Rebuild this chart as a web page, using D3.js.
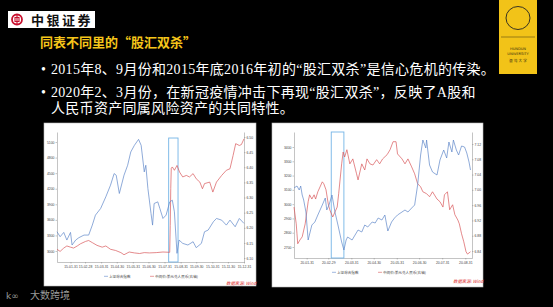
<!DOCTYPE html>
<html>
<head>
<meta charset="utf-8">
<script src="https://cdn.jsdelivr.net/npm/d3@7"></script>
<style>
html, body { margin: 0; padding: 0; background: #000; }
svg { display: block; }
</style>
</head>
<body>
<svg id="slide"></svg>
<script>
// 2015 上证综指 / 中间价
const idx15Dates = ["2015-01-05","2015-01-11","2015-01-18","2015-01-24","2015-01-31","2015-02-03","2015-02-10","2015-02-16","2015-02-26","2015-03-07","2015-03-14","2015-03-20","2015-03-30","2015-04-09","2015-04-18","2015-04-25","2015-04-29","2015-05-05","2015-05-14","2015-05-21","2015-05-27","2015-06-03","2015-06-11","2015-06-16","2015-06-22","2015-06-25","2015-06-29","2015-07-05","2015-07-08","2015-07-11","2015-07-18","2015-07-22","2015-07-28","2015-08-03","2015-08-10","2015-08-15","2015-08-19","2015-08-24","2015-08-28","2015-09-04","2015-09-14","2015-09-24","2015-09-30","2015-10-10","2015-10-16","2015-10-23","2015-11-02","2015-11-08","2015-11-18","2015-11-27","2015-12-04","2015-12-14","2015-12-22","2015-12-31"];
const idx15Values = [3371,3275,3358,3211,3358,3115,3211,3256,3307,3307,3499,3691,3819,4044,4268,4492,4460,4108,4460,4652,4908,5036,5151,5036,4524,4652,4204,3723,3499,3915,3947,3819,3627,3691,3947,3979,3755,2955,3211,3147,3115,3179,3064,3147,3371,3403,3563,3627,3595,3499,3595,3467,3627,3531];

const fx15Dates = ["2015-01-05","2015-01-11","2015-01-18","2015-01-24","2015-01-31","2015-02-06","2015-02-13","2015-02-19","2015-03-01","2015-03-07","2015-03-14","2015-03-23","2015-04-02","2015-04-09","2015-04-18","2015-04-28","2015-05-08","2015-05-14","2015-05-24","2015-06-03","2015-06-13","2015-06-22","2015-07-02","2015-07-15","2015-07-28","2015-08-10","2015-08-11","2015-08-12","2015-08-13","2015-08-15","2015-08-19","2015-08-24","2015-08-29","2015-09-04","2015-09-11","2015-09-17","2015-09-24","2015-09-30","2015-10-07","2015-10-12","2015-10-16","2015-10-26","2015-11-01","2015-11-08","2015-11-18","2015-11-27","2015-12-04","2015-12-10","2015-12-15","2015-12-22","2015-12-26","2015-12-31"];
const fx15Values = [6.129,6.122,6.133,6.140,6.136,6.133,6.140,6.147,6.155,6.158,6.151,6.142,6.136,6.140,6.129,6.125,6.118,6.111,6.120,6.117,6.115,6.118,6.117,6.118,6.120,6.119,6.208,6.330,6.397,6.401,6.390,6.406,6.384,6.368,6.373,6.368,6.379,6.362,6.351,6.329,6.346,6.351,6.318,6.351,6.373,6.390,6.395,6.439,6.478,6.472,6.475,6.494];

// 2020 上证综指 / 中间价
const idx20Dates = ["2020-01-14","2020-01-18","2020-01-21","2020-01-23","2020-01-25","2020-01-27","2020-01-30","2020-02-02","2020-02-07","2020-02-11","2020-02-15","2020-02-21","2020-02-25","2020-02-27","2020-03-01","2020-03-05","2020-03-09","2020-03-13","2020-03-18","2020-03-21","2020-03-24","2020-03-26","2020-04-01","2020-04-05","2020-04-09","2020-04-14","2020-04-18","2020-04-22","2020-04-28","2020-05-02","2020-05-06","2020-05-11","2020-05-15","2020-05-19","2020-05-24","2020-05-28","2020-06-01","2020-06-07","2020-06-11","2020-06-15","2020-06-20","2020-06-24","2020-06-28","2020-07-02","2020-07-05","2020-07-09","2020-07-10","2020-07-14","2020-07-18","2020-07-24","2020-07-28","2020-08-02","2020-08-06","2020-08-09","2020-08-13","2020-08-15","2020-08-19","2020-08-22","2020-08-26","2020-08-30","2020-09-02","2020-09-05","2020-09-07"];
const idx20Values = [3113,3127,3099,3127,3064,3029,2945,2749,2854,2875,2924,2994,3043,2959,2994,3064,2945,2854,2735,2679,2749,2770,2749,2784,2819,2805,2854,2840,2875,2868,2903,2889,2924,2812,2875,2903,2924,2945,2959,2945,2973,2994,3134,3344,3449,3393,3449,3274,3225,3204,3309,3379,3323,3435,3365,3449,3379,3344,3407,3400,3358,3295,3239];

const fx20Dates = ["2020-01-14","2020-01-17","2020-01-18","2020-01-19","2020-01-22","2020-01-25","2020-01-29","2020-02-02","2020-02-04","2020-02-07","2020-02-10","2020-02-12","2020-02-15","2020-02-21","2020-02-23","2020-02-26","2020-02-29","2020-03-02","2020-03-06","2020-03-12","2020-03-14","2020-03-18","2020-03-20","2020-03-22","2020-03-25","2020-03-29","2020-04-02","2020-04-07","2020-04-09","2020-04-14","2020-04-18","2020-04-21","2020-04-25","2020-04-29","2020-05-04","2020-05-08","2020-05-12","2020-05-18","2020-05-22","2020-05-26","2020-05-30","2020-06-01","2020-06-07","2020-06-11","2020-06-15","2020-06-20","2020-06-24","2020-06-28","2020-07-02","2020-07-05","2020-07-10","2020-07-14","2020-07-18","2020-07-24","2020-07-28","2020-08-01","2020-08-03","2020-08-07","2020-08-10","2020-08-14","2020-08-17","2020-08-21","2020-08-23","2020-08-26","2020-08-29","2020-09-01","2020-09-03","2020-09-07"];
const fx20Values = [6.955,6.911,6.885,6.859,6.869,6.877,6.911,6.969,6.987,6.976,6.987,6.976,6.995,7.021,7.016,7.000,6.963,6.948,6.929,6.955,6.990,7.068,7.099,7.086,7.105,7.068,7.081,7.042,7.026,7.068,7.052,7.081,7.068,7.065,7.079,7.068,7.081,7.092,7.105,7.126,7.126,7.094,7.081,7.068,7.081,7.060,7.042,7.016,7.008,6.995,6.990,6.982,6.995,6.976,6.969,6.955,6.987,6.995,6.948,6.961,6.935,6.921,6.911,6.885,6.864,6.838,6.832,6.838];

// 刻度
const yTicks15 = [3000,3300,3600,3900,4200,4500,4800,5100];
const y2Ticks15 = [6.10,6.15,6.20,6.25,6.30,6.35,6.40,6.45,6.50];
const xTicks15 = ["2015-01-31","2015-02-28","2015-03-31","2015-04-30","2015-05-31","2015-06-30","2015-07-31","2015-08-31","2015-09-30","2015-10-31","2015-11-30","2015-12-31"];
const yTicks20 = [2700,2800,2900,3000,3100,3200,3300,3400];
const y2Ticks20 = [6.84,6.88,6.92,6.96,7.00,7.04,7.08,7.12];
const xTicks20 = ["2020-01-31","2020-02-29","2020-03-31","2020-04-30","2020-05-31","2020-06-30","2020-07-31","2020-08-31"];

// 高亮区间（股汇双杀）
const shade15 = ["2015-08-08","2015-08-26"];
const shade20 = ["2020-03-04","2020-03-21"];

const legendNames = ["上证综合指数","中间价:美元兑人民币(右轴)"];
const bullets = [
  ["2015年8、9月份和2015年底2016年初的“股汇双杀”是信心危机的传染。"],
  ["2020年2、3月份，在新冠疫情冲击下再现“股汇双杀”，反映了A股和", "人民币资产同属风险资产的共同特性。"]
];

const W = 553, H = 307;
const BLUE = "#5f86c9", RED = "#d9585a";
const parse = d3.timeParse("%Y-%m-%d");

const svg = d3.select("#slide").attr("width", W).attr("height", H);
svg.append("rect").attr("width", W).attr("height", H).attr("fill", "#000");

// 中银证券 logo
const logo = svg.append("g");
logo.append("rect").attr("x", 8).attr("y", 11).attr("width", 87).attr("height", 17).attr("fill", "#fff");
logo.append("circle").attr("cx", 17).attr("cy", 19.5).attr("r", 5).attr("fill", "none").attr("stroke", "#c8102e").attr("stroke-width", 1.8);
logo.append("rect").attr("x", 15).attr("y", 17.5).attr("width", 4).attr("height", 4).attr("fill", "none").attr("stroke", "#c8102e").attr("stroke-width", 1.1);
logo.append("line").attr("x1", 17).attr("x2", 17).attr("y1", 14).attr("y2", 25).attr("stroke", "#c8102e").attr("stroke-width", 1.1);
logo.append("text").attr("x", 31).attr("y", 24.5).text("中银证券")
  .attr("font-family", "'Noto Sans CJK SC'").attr("font-weight", 700)
  .attr("font-size", 13).attr("letter-spacing", 2.5).attr("fill", "#111");

// 混沌大学 block
const hd = svg.append("g");
hd.append("rect").attr("x", 499).attr("y", 0).attr("width", 38).attr("height", 74).attr("fill", "#f2c318");
hd.append("ellipse").attr("cx", 518).attr("cy", 18).attr("rx", 12).attr("ry", 11.5)
  .attr("fill", "none").attr("stroke", "#222").attr("stroke-width", 0.9);
hd.append("line").attr("x1", 501).attr("x2", 535).attr("y1", 37).attr("y2", 37).attr("stroke", "#5a4a10").attr("stroke-width", 0.6);
[["HUNDUN", 50], ["UNIVERSITY", 55], ["混 沌 大 学", 62]].forEach(([t, y]) => {
  hd.append("text").attr("x", 518).attr("y", y).attr("text-anchor", "middle")
    .attr("font-family", "'DejaVu Sans','Noto Sans CJK SC'").attr("font-size", 3.6)
    .attr("fill", "#3a3010").text(t);
});

// 标题
svg.append("text").attr("x", 40).attr("y", 47).text("同表不同里的“股汇双杀”")
  .attr("font-family", "'Noto Sans CJK SC'").attr("font-weight", 700)
  .attr("font-size", 13).attr("fill", "#f5c51a");

// 要点
const bodyFont = "'Liberation Serif','Noto Sans CJK SC'";
let lineY = [74, 97, 113], k = 0;
bullets.forEach(lines => {
  svg.append("text").attr("x", 41).attr("y", lineY[k]).text("•")
    .attr("font-family", bodyFont).attr("font-size", 14).attr("fill", "#fff");
  lines.forEach(t => {
    svg.append("text").attr("x", 51).attr("y", lineY[k]).text(t)
      .attr("font-family", bodyFont).attr("font-size", 14).attr("letter-spacing", 0.3).attr("fill", "#fff");
    k++;
  });
});

// 水印
svg.append("text").attr("x", 6).attr("y", 299).text("k∞")
  .attr("font-family", "'DejaVu Sans'").attr("font-size", 9).attr("fill", "#9a9a9a");
svg.append("text").attr("x", 30).attr("y", 299).text("大数跨境")
  .attr("font-family", "'Noto Sans CJK SC'").attr("font-size", 10).attr("fill", "#9a9a9a");

function drawPanel(p) {
  const g = svg.append("g");
  g.append("rect").attr("x", p.box[0]).attr("y", p.box[1]).attr("width", p.box[2]).attr("height", p.box[3])
    .attr("fill", "#fff").attr("stroke", "#bbb").attr("stroke-width", 0.6);

  const x = d3.scaleTime().domain(p.xDomain.map(parse)).range([p.left, p.right]);
  const y = d3.scaleLinear().domain(p.yDomain).range([p.bottom, p.top]);
  const y2 = d3.scaleLinear().domain(p.y2Domain).range([p.bottom, p.top]);

  const styleAxis = a => {
    a.selectAll("path, line").attr("stroke", "#888").attr("stroke-width", 0.5);
    a.selectAll("text").attr("fill", "#444").attr("font-family", "'Liberation Sans'").attr("font-size", p.tickFont);
  };

  g.append("g").attr("transform", `translate(0,${p.bottom})`)
    .call(d3.axisBottom(x).tickValues(p.xTicks.map(parse)).tickFormat(d3.timeFormat("%y-%m-%d")).tickSize(1.5).tickSizeOuter(0).tickPadding(p.xPad))
    .call(styleAxis);
  g.append("g").attr("transform", `translate(${p.left},0)`)
    .call(d3.axisLeft(y).tickValues(p.yTicks).tickFormat(d3.format("d")).tickSize(1.5).tickSizeOuter(0).tickPadding(1))
    .call(styleAxis);
  g.append("g").attr("transform", `translate(${p.right},0)`)
    .call(d3.axisRight(y2).tickValues(p.y2Ticks).tickFormat(d3.format(".2f")).tickSize(1.5).tickSizeOuter(0).tickPadding(1))
    .call(styleAxis);

  // 高亮框
  const sx0 = x(parse(p.shade[0])), sx1 = x(parse(p.shade[1]));
  g.append("rect").attr("x", sx0).attr("y", y(p.shadeTop)).attr("width", sx1 - sx0).attr("height", p.bottom - y(p.shadeTop))
    .attr("fill", "none").attr("stroke", "#74b4e6").attr("stroke-width", 0.9);

  const line = (dates, vals, sc) => d3.line().x((d, i) => x(parse(dates[i]))).y(d => sc(d))(vals);
  g.append("path").attr("d", line(p.fxDates, p.fxValues, y2)).attr("fill", "none").attr("stroke", RED).attr("stroke-width", 0.7);
  g.append("path").attr("d", line(p.idxDates, p.idxValues, y)).attr("fill", "none").attr("stroke", BLUE).attr("stroke-width", 0.7);

  // 图例
  [[BLUE, p.legend[0]], [RED, p.legend[1]]].forEach(([c, lx], i) => {
    g.append("line").attr("x1", lx).attr("x2", lx + 4).attr("y1", p.legendY - 1.2).attr("y2", p.legendY - 1.2)
      .attr("stroke", c).attr("stroke-width", 0.6);
    g.append("text").attr("x", lx + 5).attr("y", p.legendY).text(legendNames[i])
      .attr("font-family", "'Noto Sans CJK SC'").attr("font-size", 3.6).attr("fill", "#444");
  });
  g.append("text").attr("x", p.source[0]).attr("y", p.source[1]).text("数据来源: Wind")
    .attr("font-family", "'Noto Sans CJK SC'").attr("font-style", "italic").attr("font-size", 4.4).attr("fill", "#e03030");
}

drawPanel({
  box: [44, 123, 212, 163], left: 57, right: 244, top: 132, bottom: 262,
  xDomain: ["2015-01-05", "2015-12-31"], yDomain: [2788, 5293], y2Domain: [6.087, 6.5165],
  xTicks: xTicks15, yTicks: yTicks15, y2Ticks: y2Ticks15, tickFont: 3.4, xPad: 2.5,
  idxDates: idx15Dates, idxValues: idx15Values, fxDates: fx15Dates, fxValues: fx15Values,
  shade: shade15, shadeTop: 5177,
  legend: [104, 150], legendY: 277.5, source: [226, 285]
});

drawPanel({
  box: [272, 123, 211, 164], left: 294, right: 472, top: 132, bottom: 258,
  xDomain: ["2020-01-14", "2020-09-09"], yDomain: [2623, 3505], y2Domain: [6.8217, 7.1514],
  xTicks: xTicks20, yTicks: yTicks20, y2Ticks: y2Ticks20, tickFont: 3.4, xPad: 2.5,
  idxDates: idx20Dates, idxValues: idx20Values, fxDates: fx20Dates, fxValues: fx20Values,
  shade: shade20, shadeTop: 3505,
  legend: [332, 378], legendY: 273.5, source: [453, 283]
});
</script>
</body>
</html>
